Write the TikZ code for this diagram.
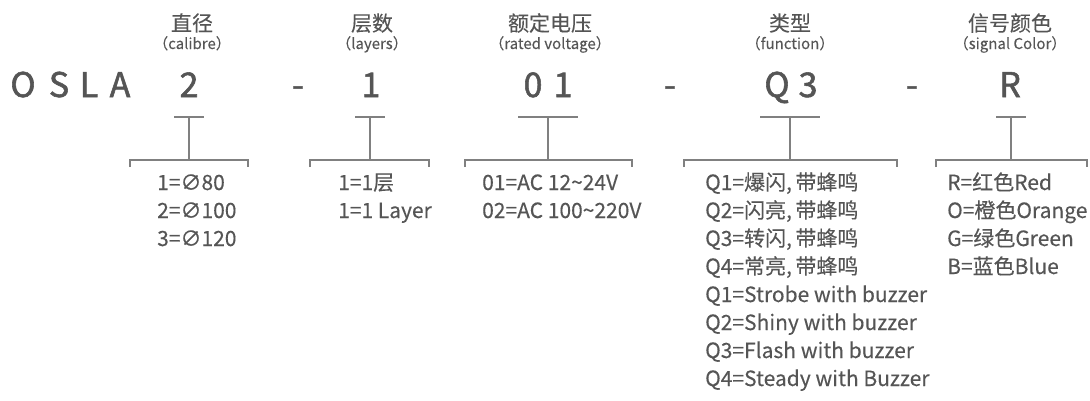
\documentclass[tikz,border=0pt]{standalone}
\usepackage{fontspec}
\setmainfont{Noto Sans CJK SC}
\newfontfamily\bigfont[FakeBold=1.6]{Noto Sans CJK SC}
\newfontfamily\optfont[FakeBold=0.25]{Noto Sans CJK SC}
\newfontfamily\ttlfont[FakeBold=0.1]{Noto Sans CJK SC}
\definecolor{txt}{HTML}{555555}
\definecolor{ln}{HTML}{808080}
\begin{document}
\begin{tikzpicture}[x=1pt,y=-1pt,
  big/.style={anchor=base,inner sep=0pt,text=txt,font=\bigfont\fontsize{34}{40}\selectfont},
  ttl/.style={anchor=base,inner sep=0pt,text=txt,font=\ttlfont\fontsize{21}{24}\selectfont},
  sub/.style={anchor=base,inner sep=0pt,text=txt,font=\ttlfont\fontsize{15}{18}\selectfont},
  opt/.style={anchor=base west,inner sep=0pt,text=txt,font=\optfont\fontsize{21}{24}\selectfont,align=left},
  bar/.style={draw=ln,line width=1.2pt},
  brk/.style={draw=ln,line width=1.2pt}]
\path[use as bounding box] (0,0) rectangle (1090,400);
% titles
\node[ttl] (t1) at (192,31) {直径};
\node[sub] (s1) at (192,49) {（calibre）};
\node[ttl] (t2) at (372,31) {层数};
\node[sub] (s2) at (372,49) {（layers）};
\node[ttl] (t3) at (550,31) {额定电压};
\node[sub] (s3) at (550,49) {（rated voltage）};
\node[ttl] (t4) at (790,31) {类型};
\node[sub] (s4) at (790,49) {（function）};
\node[ttl] (t5) at (1010,31) {信号颜色};
\node[sub] (s5) at (1010,49) {（signal Color）};
% code
\node[big] (cO) at (23,97) {O};
\node[big] (cS) at (59,97) {S};
\node[big] (cL) at (89,97) {L};
\node[big] (cA) at (120,97) {A};
\node[big] (c2) at (189,97) {2};
\node[big] (d1) at (298,97) {-};
\node[big] (c1) at (371,97) {1};
\node[big] (c0a) at (533,97) {0};
\node[big] (c0b) at (563,97) {1};
\node[big] (d2) at (670,97) {-};
\node[big] (cQ) at (777,97) {Q};
\node[big] (c3) at (808,97) {3};
\node[big] (d3) at (912,97) {-};
\node[big] (cR) at (1010,97) {R};
% connectors
\coordinate (b1l) at (174,117); \coordinate (b1r) at (204,117);
\coordinate (v1) at (189,117); \coordinate (h1) at (189,160);
\draw[bar] (b1l) -- (b1r); \draw[bar] (v1) -- (h1);
\draw[brk] (130,167) -- (130,160) -- (248,160) -- (248,167);
\coordinate (b2l) at (355,117); \coordinate (b2r) at (385,117);
\coordinate (v2) at (370,117); \coordinate (h2) at (370,160);
\draw[bar] (b2l) -- (b2r); \draw[bar] (v2) -- (h2);
\draw[brk] (310,167) -- (310,160) -- (429,160) -- (429,167);
\coordinate (b3l) at (518,117); \coordinate (b3r) at (578,117);
\coordinate (v3) at (548,117); \coordinate (h3) at (548,160);
\draw[bar] (b3l) -- (b3r); \draw[bar] (v3) -- (h3);
\draw[brk] (465,167) -- (465,160) -- (632,160) -- (632,167);
\coordinate (b4l) at (760,117); \coordinate (b4r) at (820,117);
\coordinate (v4) at (790,117); \coordinate (h4) at (790,160);
\draw[bar] (b4l) -- (b4r); \draw[bar] (v4) -- (h4);
\draw[brk] (684,167) -- (684,160) -- (897,160) -- (897,167);
\coordinate (b5l) at (996,117); \coordinate (b5r) at (1026,117);
\coordinate (v5) at (1011,117); \coordinate (h5) at (1011,160);
\draw[bar] (b5l) -- (b5r); \draw[bar] (v5) -- (h5);
\draw[brk] (936,167) -- (936,160) -- (1087,160) -- (1087,167);
% options
\node[opt] (o11) at (157,190) {1=∅80};
\node[opt] (o12) at (157,218) {2=∅100};
\node[opt] (o13) at (157,246) {3=∅120};
\node[opt] (o21) at (338,190) {1=1层};
\node[opt] (o22) at (338,218) {1=1 Layer};
\node[opt] (o31) at (482,190) {01=AC 12\textasciitilde24V};
\node[opt] (o32) at (482,218) {02=AC 100\textasciitilde220V};
\node[opt] (o41) at (705,190) {Q1=爆闪,\,带蜂鸣};
\node[opt] (o42) at (705,218) {Q2=闪亮,\,带蜂鸣};
\node[opt] (o43) at (705,246) {Q3=转闪,\,带蜂鸣};
\node[opt] (o44) at (705,274) {Q4=常亮,\,带蜂鸣};
\node[opt] (o45) at (705,302) {Q1=Strobe with buzzer};
\node[opt] (o46) at (705,330) {Q2=Shiny with buzzer};
\node[opt] (o47) at (705,358) {Q3=Flash with buzzer};
\node[opt] (o48) at (705,386) {Q4=Steady with Buzzer};
\node[opt] (o51) at (947,190) {R=红色Red};
\node[opt] (o52) at (947,218) {O=橙色Orange};
\node[opt] (o53) at (947,246) {G=绿色Green};
\node[opt] (o54) at (947,274) {B=蓝色Blue};
\end{tikzpicture}
\end{document}
